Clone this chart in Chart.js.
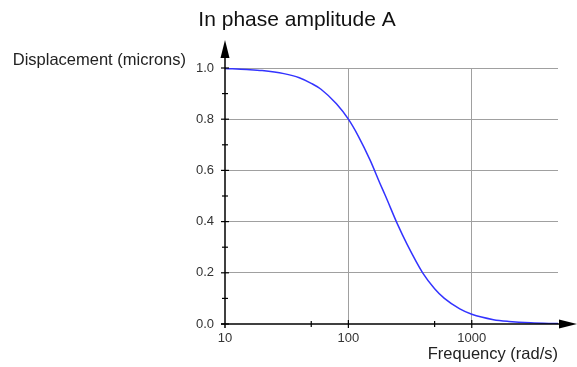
<!DOCTYPE html>
<html lang="en">
<head>
    <meta charset="UTF-8">
    <title>In phase amplitude A</title>
    <style>
        body { margin: 0; background: #fff; font-family: Arial, "Liberation Sans", sans-serif; }
        .wrap { width: 577px; height: 367px; }
    </style>
</head>
<body>
    <div class="wrap"><canvas id="chart" width="577" height="367"></canvas></div>

    <script src="https://cdn.jsdelivr.net/npm/chart.js"></script>
    <script>
        // Frequency (rad/s) and displacement
        var frequency = [10, 15, 20, 30, 40, 50, 60, 80, 100, 120, 150, 180, 200, 250, 300, 400, 500, 600, 800, 1000, 1500, 2000, 3000, 5000];
        var amplitude = [0.998, 0.994, 0.99, 0.978, 0.962, 0.94, 0.917, 0.86, 0.80, 0.735, 0.64, 0.55, 0.50, 0.39, 0.31, 0.20, 0.138, 0.10, 0.059, 0.038, 0.017, 0.0099, 0.0044, 0.0016];

        var xTickLabels = [10, 100, 1000];
        var xMinorTicks = [50, 500];
        var yMinorTicks = [0.1, 0.3, 0.5, 0.7, 0.9];

        var FONT = 'Arial, "Liberation Sans", sans-serif';

        // title, axis lines, arrows, tick marks and the two axis titles
        var axesPlugin = {
            id: 'axesPlugin',
            afterDatasetsDraw: function (chart) {
                var ctx = chart.ctx;
                var xs = chart.scales.x, ys = chart.scales.y;
                var x0 = xs.getPixelForValue(10);
                var y0 = ys.getPixelForValue(0);
                ctx.save();
                ctx.strokeStyle = '#000';
                ctx.fillStyle = '#000';
                ctx.lineWidth = 1.5;

                // y axis + arrow
                ctx.beginPath();
                ctx.moveTo(x0, y0 + 4);
                ctx.lineTo(x0, 50);
                ctx.stroke();
                ctx.beginPath();
                ctx.moveTo(x0, 40);
                ctx.lineTo(x0 - 4.5, 58);
                ctx.lineTo(x0 + 4.5, 58);
                ctx.closePath();
                ctx.fill();

                // x axis + arrow
                ctx.beginPath();
                ctx.moveTo(x0 - 4, y0);
                ctx.lineTo(568, y0);
                ctx.stroke();
                ctx.beginPath();
                ctx.moveTo(577, y0);
                ctx.lineTo(559, y0 - 4.5);
                ctx.lineTo(559, y0 + 4.5);
                ctx.closePath();
                ctx.fill();

                // y ticks
                ctx.lineWidth = 1.2;
                ys.ticks.forEach(function (t) {
                    var py = ys.getPixelForValue(t.value);
                    ctx.beginPath();
                    ctx.moveTo(x0 - 4, py);
                    ctx.lineTo(x0 + 4, py);
                    ctx.stroke();
                });
                yMinorTicks.forEach(function (v) {
                    var py = ys.getPixelForValue(v);
                    ctx.beginPath();
                    ctx.moveTo(x0 - 3, py);
                    ctx.lineTo(x0 + 3, py);
                    ctx.stroke();
                });

                // x ticks
                xTickLabels.slice(1).forEach(function (v) {
                    var px = xs.getPixelForValue(v);
                    ctx.beginPath();
                    ctx.moveTo(px, y0 - 4);
                    ctx.lineTo(px, y0 + 4);
                    ctx.stroke();
                });
                xMinorTicks.forEach(function (v) {
                    var px = xs.getPixelForValue(v);
                    ctx.beginPath();
                    ctx.moveTo(px, y0 - 3);
                    ctx.lineTo(px, y0 + 3);
                    ctx.stroke();
                });

                // titles
                ctx.textBaseline = 'middle';
                ctx.fillStyle = '#111';
                ctx.font = '21px ' + FONT;
                ctx.textAlign = 'center';
                ctx.fillText('In phase amplitude A', 297, 20);

                ctx.fillStyle = '#222';
                ctx.font = '16.5px ' + FONT;
                ctx.textAlign = 'right';
                ctx.fillText('Displacement (microns)', 186, 60);
                ctx.fillText('Frequency (rad/s)', 558, 354);
                ctx.restore();
            }
        };

        new Chart(document.getElementById('chart'), {
            type: 'line',
            data: {
                datasets: [{
                    label: 'A',
                    data: frequency.map(function (f, i) { return { x: f, y: amplitude[i] }; }),
                    borderColor: '#3333ff',
                    borderWidth: 1.5,
                    pointRadius: 0,
                    fill: false,
                    cubicInterpolationMode: 'monotone'
                }]
            },
            options: {
                responsive: false,
                animation: false,
                layout: { padding: { left: 0, right: 19, top: 68, bottom: 0 } },
                plugins: {
                    legend: { display: false },
                    tooltip: { enabled: false },
                    title: { display: false }
                },
                scales: {
                    x: {
                        type: 'logarithmic',
                        min: 10,
                        max: 5000,
                        afterBuildTicks: function (scale) {
                            scale.ticks = xTickLabels.map(function (v) { return { value: v }; });
                        },
                        afterFit: function (scale) { scale.height = 43; },
                        border: { display: false },
                        grid: {
                            drawTicks: false,
                            color: function (c) { return c.tick && c.tick.value === 10 ? 'rgba(0,0,0,0)' : '#a0a0a0'; }
                        },
                        ticks: {
                            padding: 7,
                            maxRotation: 0,
                            autoSkip: false,
                            color: '#333',
                            font: { family: FONT, size: 13 },
                            callback: function (v) { return String(v); }
                        }
                    },
                    y: {
                        min: 0,
                        max: 1,
                        afterFit: function (scale) { scale.width = 225; },
                        border: { display: false },
                        grid: {
                            drawTicks: false,
                            color: function (c) { return c.tick && c.tick.value === 0 ? 'rgba(0,0,0,0)' : '#a0a0a0'; }
                        },
                        ticks: {
                            stepSize: 0.2,
                            padding: 11,
                            color: '#333',
                            font: { family: FONT, size: 13 },
                            callback: function (v) { return v.toFixed(1); }
                        }
                    }
                }
            },
            plugins: [axesPlugin]
        });
    </script>
</body>
</html>
